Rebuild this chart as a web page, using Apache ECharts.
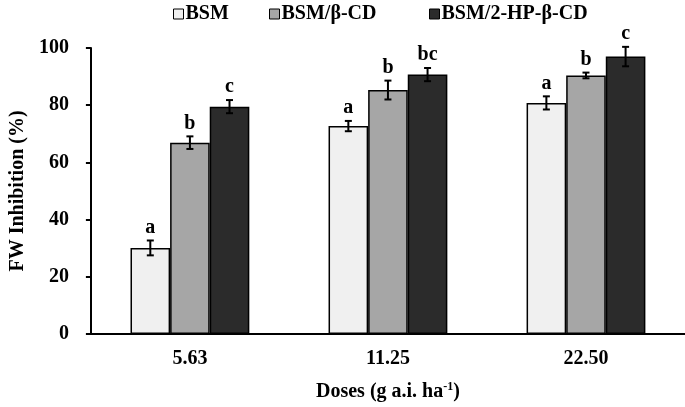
<!DOCTYPE html>
<html><head><meta charset="utf-8">
<script src="https://cdn.jsdelivr.net/npm/echarts@6/dist/echarts.min.js"></script>
<style>html,body{margin:0;padding:0;background:#fff}#c{width:685px;height:407px}</style>
</head><body><div id="c"></div>
<script>
const categories = ['5.63', '11.25', '22.50'];
const seriesNames = ['BSM', 'BSM/β-CD', 'BSM/2-HP-β-CD'];
const bsm = [30.1, 72.7, 80.8];
const bcd = [66.9, 85.3, 90.4];
const hpbcd = [79.5, 90.7, 97.0];
const bsmErr = [2.6, 1.8, 2.3];
const bcdErr = [2.2, 3.3, 1.0];
const hpbcdErr = [2.3, 2.3, 3.4];
const bsmLetters = ['a', 'a', 'a'];
const bcdLetters = ['b', 'b', 'b'];
const hpbcdLetters = ['c', 'bc', 'c'];
const yTicks = [0, 20, 40, 60, 80, 100];

const colors = ['#f0f0f0', '#a6a6a6', '#2b2b2b'];
const values = [bsm, bcd, hpbcd];
const errs = [bsmErr, bcdErr, hpbcdErr];
const letters = [bsmLetters, bcdLetters, hpbcdLetters];
const FONT = '"Liberation Serif", "Times New Roman", serif';
const FS = 20;

const chart = echarts.init(document.getElementById('c'));
const series = [];
values.forEach((v, i) => {
  series.push({
    name: seriesNames[i], type: 'bar', data: v,
    barGap: '0%', barCategoryGap: '40%',
    itemStyle: { color: colors[i], borderColor: '#000', borderWidth: 1.5 },
    z: 2
  });
});
values.forEach((v, i) => {
  series.push({
    type: 'custom', z: 5, silent: true,
    data: v.map((val, j) => [j, val, errs[i][j]]),
    renderItem: function (params, api) {
      const band = api.size([1, 0])[0];
      const off = (i - 1) * band * 0.2;
      const c = api.coord([api.value(0), api.value(1)]);
      const x = c[0] + off;
      const hi = api.coord([api.value(0), api.value(1) + api.value(2)])[1];
      const lo = api.coord([api.value(0), api.value(1) - api.value(2)])[1];
      const cap = 3.5;
      const st = { stroke: '#000', lineWidth: 2 };
      return {
        type: 'group',
        children: [
          { type: 'line', shape: { x1: x, y1: hi, x2: x, y2: lo }, style: st },
          { type: 'line', shape: { x1: x - cap, y1: hi, x2: x + cap, y2: hi }, style: st },
          { type: 'line', shape: { x1: x - cap, y1: lo, x2: x + cap, y2: lo }, style: st },
          { type: 'text', style: { text: letters[i][params.dataIndex], x: x, y: hi - 3,
              textAlign: 'center', textVerticalAlign: 'bottom',
              font: 'bold ' + FS + 'px ' + FONT, fill: '#000' } }
        ]
      };
    }
  });
});

const legendLefts = [173, 269, 429];
const legends = seriesNames.map((n, i) => ({
  data: [{ name: n, itemStyle: { borderColor: '#000', borderWidth: 1 } }],
  top: 4, left: legendLefts[i], itemWidth: 10, itemHeight: 10, itemGap: 0,
  icon: 'rect', padding: 0,
  textStyle: { fontFamily: FONT, fontWeight: 'bold', fontSize: FS, color: '#000', padding: [0, 0, 0, -3] }
}));

chart.setOption({
  animation: false,
  color: colors,
  legend: legends,
  grid: { left: 86, right: 0, top: 48, bottom: 71 },
  xAxis: {
    type: 'category', data: categories,
    axisLine: { lineStyle: { color: '#000', width: 2 } },
    axisTick: { show: false },
    axisLabel: { fontFamily: FONT, fontWeight: 'bold', fontSize: FS, color: '#000', margin: 15 },
    name: 'Doses (g a.i. ha{sup|-1})', nameLocation: 'middle', nameGap: 47,
    nameTextStyle: {
      fontFamily: FONT, fontWeight: 'bold', fontSize: FS, color: '#000',
      rich: { sup: { fontFamily: FONT, fontWeight: 'bold', fontSize: 12, color: '#000', verticalAlign: 'top', padding: [0, 0, 10, 0] } }
    }
  },
  yAxis: {
    type: 'value', min: 0, max: 100, interval: 20,
    axisLine: { show: true, lineStyle: { color: '#000', width: 2 } },
    axisTick: { show: true, length: 5, lineStyle: { color: '#000', width: 2 } },
    splitLine: { show: false },
    axisLabel: { fontFamily: FONT, fontWeight: 'bold', fontSize: FS, color: '#000', margin: 22,
      formatter: v => yTicks.includes(v) ? String(v) : '' },
    name: 'FW Inhibition (%)', nameLocation: 'middle', nameGap: 58,
    nameTextStyle: { fontFamily: FONT, fontWeight: 'bold', fontSize: FS, color: '#000' }
  },
  series: series
});
</script></body></html>
